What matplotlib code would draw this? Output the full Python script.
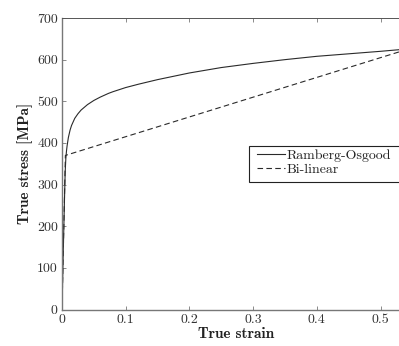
import matplotlib
matplotlib.use("Agg")
import matplotlib.pyplot as plt
from matplotlib.patches import Rectangle
from matplotlib.ticker import FixedLocator, FixedFormatter

# True stress-strain data (strain [-], stress [MPa])
ro_strain = [0.0, 0.002, 0.004, 0.005, 0.006, 0.007, 0.008, 0.010, 0.0127, 0.015,
             0.020, 0.025, 0.030, 0.040, 0.050, 0.060, 0.073, 0.080, 0.100, 0.120,
             0.150, 0.200, 0.250, 0.300, 0.350, 0.400, 0.450, 0.500, 0.530]
ro_stress = [0.0, 140, 270, 330, 362, 380, 393, 413, 431, 442,
             459, 470, 479, 492, 502, 510, 519, 523, 533, 541,
             552, 568, 581, 591, 600, 608, 614, 620, 624]

bl_strain = [0.0, 0.0053, 0.530]
bl_stress = [0.0, 370, 619]

x_ticks = [0, 0.1, 0.2, 0.3, 0.4, 0.5]
x_tick_labels = ["0", "0.1", "0.2", "0.3", "0.4", "0.5"]
y_ticks = [0, 100, 200, 300, 400, 500, 600, 700]
y_tick_labels = ["0", "100", "200", "300", "400", "500", "600", "700"]

plt.rcParams["font.family"] = ["cmr10", "DejaVu Serif"]
plt.rcParams["axes.formatter.use_mathtext"] = True

W, H = 399, 346
fig = plt.figure(figsize=(W / 100, H / 100), dpi=100)
left, right, top, bottom = 62, 411, 18, 309.5
ax = fig.add_axes([left / W, 1 - bottom / H, (right - left) / W, (bottom - top) / H])

line_col = "#2a2a2a"
ax.plot(ro_strain, ro_stress, "-", color=line_col, lw=0.8, label="Ramberg-Osgood")
ax.plot(bl_strain, bl_stress, "--", color=line_col, lw=0.8, dashes=(5, 3),
        label="Bi-linear")

ax.set_xlim(0, (right - left) / 637.0)
ax.set_ylim(0, 700)

ax.xaxis.set_major_locator(FixedLocator(x_ticks))
ax.xaxis.set_major_formatter(FixedFormatter(x_tick_labels))
ax.yaxis.set_major_locator(FixedLocator(y_ticks))
ax.yaxis.set_major_formatter(FixedFormatter(y_tick_labels))

for s in ax.spines.values():
    s.set_color("#777777")
    s.set_linewidth(1.0)
ax.spines["top"].set_color("#555555")
ax.spines["top"].set_linewidth(0.7)

ax.tick_params(direction="in", length=3, width=0.6, color="#777777",
               top=True, right=True, labelsize=10, labelcolor="#333333", pad=3)

ax.set_xlabel("True strain", fontsize=11, family=["cmb10", "DejaVu Serif"],
              color="#222222", labelpad=1)
ax.set_ylabel("True stress [MPa]", fontsize=11, family=["cmb10", "DejaVu Serif"],
              color="#222222", labelpad=3)

# Legend box (runs past the right edge of the canvas)
bx0, by0, bx1, by1 = 249, 146, 412, 182
fig.patches.append(Rectangle((bx0 / W, 1 - by1 / H), (bx1 - bx0) / W, (by1 - by0) / H,
                             transform=fig.transFigure, facecolor="white",
                             edgecolor="#222222", linewidth=0.8, zorder=5))

leg = fig.legend(*ax.get_legend_handles_labels(), loc="upper left",
                 bbox_to_anchor=(257 / W, 1 - 149.5 / H),
                 fontsize=10, frameon=False, borderpad=0,
                 handlelength=2.0, handletextpad=0.15, labelspacing=0.1,
                 borderaxespad=0)
leg.set_zorder(6)
for t in leg.get_texts():
    t.set_color("#222222")

fig.savefig("out.png", dpi=100)
